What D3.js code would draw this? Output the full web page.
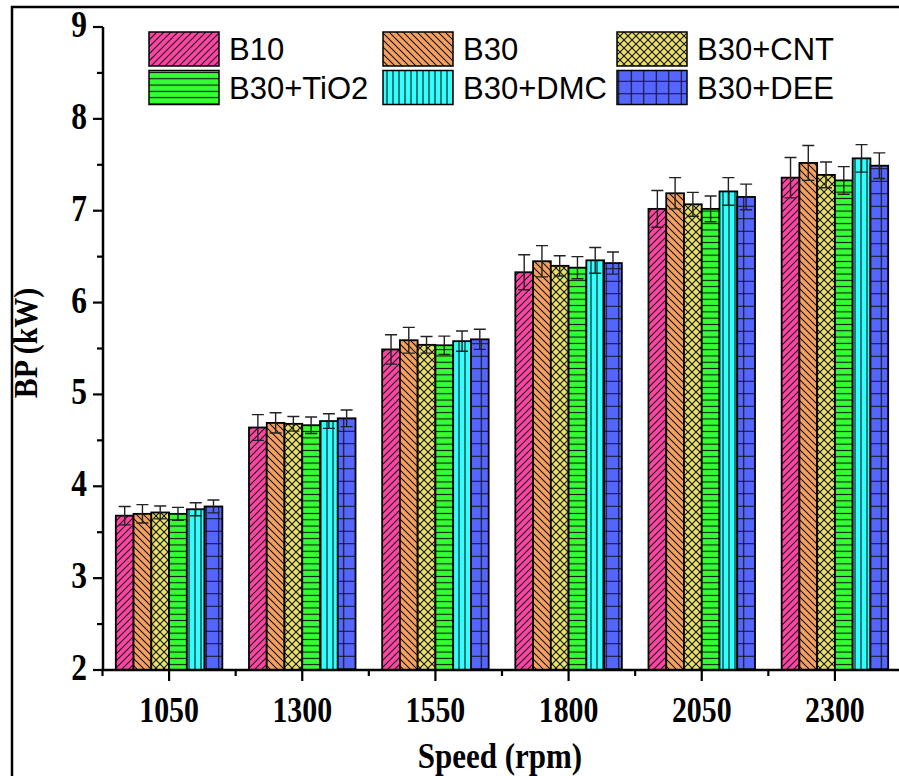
<!DOCTYPE html>
<html>
<head>
<meta charset="utf-8">
<script src="https://cdn.jsdelivr.net/npm/d3@7/dist/d3.min.js"></script>
<style>
  html, body { margin: 0; padding: 0; background: #fff; }
  svg { display: block; }
</style>
</head>
<body>
<svg id="chart" width="899" height="776"></svg>
<script>
// ---- data ----
const speeds = ["1050", "1300", "1550", "1800", "2050", "2300"];
const seriesNames = ["B10", "B30", "B30+CNT", "B30+TiO2", "B30+DMC", "B30+DEE"];
const B10      = [3.68, 4.64, 5.49, 6.33, 7.02, 7.36];
const B30      = [3.70, 4.69, 5.59, 6.45, 7.19, 7.52];
const B30_CNT  = [3.715, 4.68, 5.54, 6.40, 7.07, 7.39];
const B30_TiO2 = [3.70, 4.665, 5.535, 6.38, 7.02, 7.33];
const B30_DMC  = [3.75, 4.71, 5.58, 6.46, 7.21, 7.57];
const B30_DEE  = [3.78, 4.74, 5.60, 6.43, 7.15, 7.49];
const err_B10      = [0.10, 0.14, 0.16, 0.19, 0.20, 0.22];
const err_B30      = [0.10, 0.11, 0.14, 0.17, 0.17, 0.19];
const err_B30_CNT  = [0.07, 0.08, 0.09, 0.11, 0.13, 0.14];
const err_B30_TiO2 = [0.07, 0.09, 0.10, 0.12, 0.14, 0.15];
const err_B30_DMC  = [0.07, 0.08, 0.11, 0.14, 0.15, 0.15];
const err_B30_DEE  = [0.07, 0.09, 0.11, 0.12, 0.14, 0.14];
const yTicks = [2, 3, 4, 5, 6, 7, 8, 9];

const values = [B10, B30, B30_CNT, B30_TiO2, B30_DMC, B30_DEE];
const errors = [err_B10, err_B30, err_B30_CNT, err_B30_TiO2, err_B30_DMC, err_B30_DEE];
const colors = ["#FF44A6", "#F5A05E", "#E9E066", "#33FF33", "#33FFFF", "#5566FF"];

const svg = d3.select("#chart");
const defs = svg.append("defs");

// ---- patterns ----
function pat(id, size, color, drawFn) {
  const p = defs.append("pattern").attr("id", id)
    .attr("patternUnits", "userSpaceOnUse")
    .attr("width", size).attr("height", size);
  p.append("rect").attr("width", size).attr("height", size).attr("fill", color);
  drawFn(p, size);
}
const lw = 1.1, lc = "#111";
pat("p0", 7, colors[0], (p, s) => {
  p.append("path").attr("d", `M0,${s} L${s},0 M${-s/2},${s/2} L${s/2},${-s/2} M${s/2},${s*1.5} L${s*1.5},${s/2}`)
    .attr("stroke", lc).attr("stroke-width", lw);
});
pat("p1", 7, colors[1], (p, s) => {
  p.append("path").attr("d", `M0,0 L${s},${s} M${-s/2},${s/2} L${s/2},${s*1.5} M${s/2},${-s/2} L${s*1.5},${s/2}`)
    .attr("stroke", lc).attr("stroke-width", lw);
});
pat("p2", 8, colors[2], (p, s) => {
  p.append("path").attr("d", `M0,0 L${s},${s} M0,${s} L${s},0`)
    .attr("stroke", lc).attr("stroke-width", lw);
});
pat("p3", 6.3, colors[3], (p, s) => {
  p.append("path").attr("d", `M0,${s/2} L${s},${s/2}`)
    .attr("stroke", lc).attr("stroke-width", lw);
});
pat("p4", 6, colors[4], (p, s) => {
  p.append("path").attr("d", `M${s/2},0 L${s/2},${s}`)
    .attr("stroke", lc).attr("stroke-width", lw);
});
pat("p5", 12.5, colors[5], (p, s) => {
  p.append("path").attr("d", `M${s/2},0 L${s/2},${s} M0,${s/2} L${s},${s/2}`)
    .attr("stroke", lc).attr("stroke-width", lw);
});

// ---- frame ----
svg.append("path").attr("d", "M12,790 L12,7 L910,7")
  .attr("fill", "none").attr("stroke", "#000").attr("stroke-width", 2.5);

// ---- scales ----
const x0 = d3.scaleBand().domain(speeds).range([102.5, 901.5]).paddingInner(0.2).paddingOuter(0.1);
const x1 = d3.scaleBand().domain(seriesNames).range([0, x0.bandwidth()]);
const y = d3.scaleLinear().domain([2, 9]).range([670, 27]);

// ---- bars ----
const rows = [];
speeds.forEach((s, i) => {
  seriesNames.forEach((n, j) => {
    rows.push({ speed: s, name: n, j, v: values[j][i], e: errors[j][i] });
  });
});

const g = svg.append("g");
g.selectAll("rect.bar").data(rows).join("rect")
  .attr("class", "bar")
  .attr("x", d => x0(d.speed) + x1(d.name))
  .attr("y", d => y(d.v))
  .attr("width", x1.bandwidth())
  .attr("height", d => y(2) - y(d.v))
  .attr("fill", d => `url(#p${d.j})`)
  .attr("stroke", "#000").attr("stroke-width", 1.8);

// ---- error bars ----
const eg = svg.append("g").attr("stroke", "#222").attr("stroke-width", 1.4).attr("fill", "none");
rows.forEach(d => {
  const cx = x0(d.speed) + x1(d.name) + x1.bandwidth() / 2;
  const yt = y(d.v + d.e), yb = y(d.v - d.e);
  eg.append("path").attr("d",
    `M${cx},${yt} L${cx},${yb} M${cx - 6},${yt} L${cx + 6},${yt} M${cx - 6},${yb} L${cx + 6},${yb}`);
});

// ---- axes ----
const axisColor = "#000";
// y axis
svg.append("line").attr("x1", 103).attr("x2", 103).attr("y1", y(9)).attr("y2", y(2) + 1)
  .attr("stroke", axisColor).attr("stroke-width", 2.5);
const yMinor = d3.range(2.5, 9, 1);
svg.append("g").selectAll("line").data(yTicks).join("line")
  .attr("x1", 93).attr("x2", 103).attr("y1", d => y(d)).attr("y2", d => y(d))
  .attr("stroke", axisColor).attr("stroke-width", 2.2);
svg.append("g").selectAll("line").data(yMinor).join("line")
  .attr("x1", 97).attr("x2", 103).attr("y1", d => y(d)).attr("y2", d => y(d))
  .attr("stroke", axisColor).attr("stroke-width", 2.2);
const serif = "'Liberation Serif', 'Times New Roman', serif";
svg.append("g").selectAll("text").data(yTicks).join("text")
  .attr("transform", d => `translate(87,${y(d) + 10}) scale(1.05,1.25)`)
  .attr("text-anchor", "end")
  .attr("font-family", serif).attr("font-weight", "bold").attr("font-size", 30)
  .text(d => d);

// x axis
svg.append("line").attr("x1", 102).attr("x2", 899).attr("y1", 670).attr("y2", 670)
  .attr("stroke", axisColor).attr("stroke-width", 2.5);
svg.append("g").selectAll("line").data(speeds).join("line")
  .attr("x1", d => x0(d) + x0.bandwidth() / 2).attr("x2", d => x0(d) + x0.bandwidth() / 2)
  .attr("y1", 670).attr("y2", 681)
  .attr("stroke", axisColor).attr("stroke-width", 2.2);
const step = x0.step();
svg.append("g").selectAll("line").data(speeds).join("line")
  .attr("x1", d => x0(d) + x0.bandwidth() / 2 - step / 2).attr("x2", d => x0(d) + x0.bandwidth() / 2 - step / 2)
  .attr("y1", 670).attr("y2", 676)
  .attr("stroke", axisColor).attr("stroke-width", 2.2);
svg.append("g").selectAll("text").data(speeds).join("text")
  .attr("transform", d => `translate(${x0(d) + x0.bandwidth() / 2},722) scale(1.03,1.25)`)
  .attr("text-anchor", "middle")
  .attr("font-family", serif).attr("font-weight", "bold").attr("font-size", 29)
  .text(d => d);

// axis titles
svg.append("text")
  .attr("transform", "translate(500,768) scale(1,1.15)")
  .attr("text-anchor", "middle")
  .attr("font-family", serif).attr("font-weight", "bold").attr("font-size", 31)
  .text("Speed (rpm)");
svg.append("text")
  .attr("transform", "translate(37,343) rotate(-90) scale(1.03,1.15)")
  .attr("text-anchor", "middle")
  .attr("font-family", serif).attr("font-weight", "bold").attr("font-size", 29)
  .text("BP (kW)");

// ---- legend ----
const sans = "'Liberation Sans', Arial, sans-serif";
const leg = svg.append("g");
seriesNames.forEach((n, j) => {
  const col = j % 3, row = Math.floor(j / 3);
  const lx = 149 + col * 234, ly = 32 + row * 38.5;
  leg.append("rect").attr("x", lx).attr("y", ly).attr("width", 70).attr("height", 34)
    .attr("fill", `url(#p${j})`).attr("stroke", "#000").attr("stroke-width", 1.5);
  leg.append("text").attr("x", lx + 80).attr("y", ly + 28)
    .attr("font-family", sans).attr("font-size", 31)
    .text(n);
});
</script>
</body>
</html>
